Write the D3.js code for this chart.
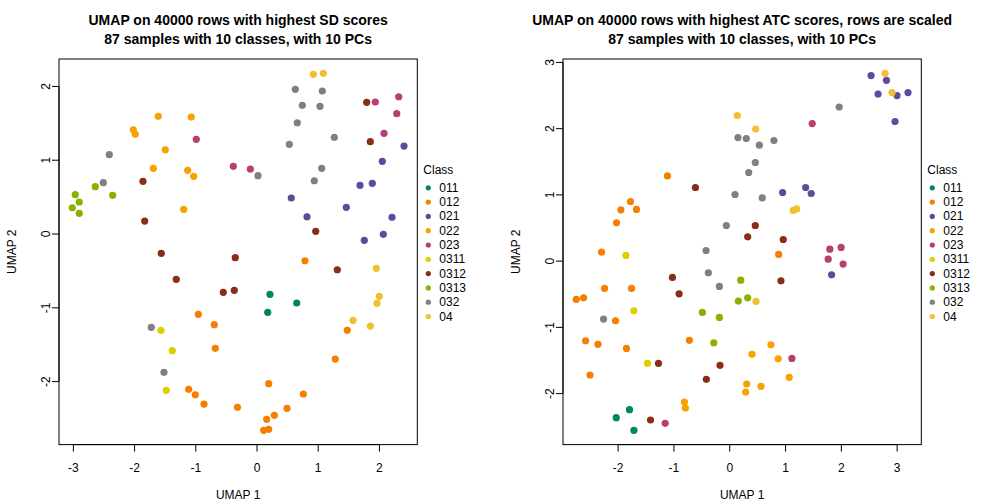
<!DOCTYPE html>
<html><head><meta charset="utf-8">
<script src="https://cdn.jsdelivr.net/npm/d3@7"></script>
<style>body{margin:0;background:#fff}svg{display:block}text{font-family:"Liberation Sans",Arial,Helvetica,sans-serif}</style>
</head><body>
<script>
const classLevels = ["011","012","021","022","023","0311","0312","0313","032","04"];
const classColors = ["#00875C","#F47F00","#5E4B9C","#F8A200","#B7406C","#DCCF00","#8B2C16","#8AB000","#808080","#F0C030"];

const sdTitle = ["UMAP on 40000 rows with highest SD scores","87 samples with 10 classes, with 10 PCs"];
const atcTitle = ["UMAP on 40000 rows with highest ATC scores, rows are scaled","87 samples with 10 classes, with 10 PCs"];

const sdClass = ["011","011","011",
 "012","012","012","012","012","012","012","012","012","012","012","012","012","012","012","012","012",
 "021","021","021","021","021","021","021","021","021","021",
 "022","022","022","022","022","022","022","022","022",
 "023","023","023","023","023","023","023",
 "0311","0311","0311",
 "0312","0312","0312","0312","0312","0312","0312","0312","0312","0312","0312",
 "0313","0313","0313","0313","0313","0313",
 "032","032","032","032","032","032","032","032","032","032","032","032","032","032",
 "04","04","04","04","04","04","04"];
const sdX = [0.212,0.649,0.175,
 -0.959,-0.698,-0.681,-1.116,-1.008,-0.866,-0.319,0.784,1.475,1.279,0.191,0.757,0.490,0.283,0.158,0.109,0.191,
 2.402,2.047,1.683,1.884,0.560,1.459,0.817,2.206,1.753,2.064,
 -1.613,-1.074,-2.021,-1.989,-1.498,-1.694,-1.132,-1.034,-1.198,
 -0.992,-0.387,1.933,2.315,2.283,2.075,-0.109,
 -1.569,-1.384,-1.482,
 -1.863,-1.835,-1.564,1.792,1.851,0.959,-0.355,-1.319,-0.551,-0.371,1.312,
 -2.642,-2.358,-2.969,-2.904,-3.018,-2.904,
 -2.413,-2.511,0.626,1.067,0.740,1.029,0.658,1.263,0.528,0.016,1.057,0.936,-1.727,-1.520,
 0.920,1.083,1.949,1.998,1.961,1.569,1.851];
const sdY = [-0.817,-0.935,-1.061,
 -1.088,-1.229,-1.549,-2.104,-2.178,-2.304,-2.348,-0.362,-1.305,-1.694,-2.028,-2.168,-2.362,-2.457,-2.511,-2.660,-2.646,
 1.192,0.985,0.660,0.687,0.488,0.362,0.234,0.226,-0.085,-0.004,
 1.595,1.585,1.413,1.351,1.142,0.890,0.863,0.782,0.335,
 1.283,0.917,1.789,1.860,1.630,1.364,0.881,
 -1.305,-1.581,-2.118,
 0.714,0.176,-0.262,1.785,1.251,0.037,-0.321,-0.614,-0.790,-0.763,-0.484,
 0.641,0.524,0.533,0.434,0.356,0.280,
 1.075,0.695,1.961,1.938,1.744,1.730,1.508,1.310,1.215,0.790,0.890,0.722,-1.264,-1.874,
 2.164,2.178,-0.465,-0.844,-0.939,-1.169,-1.247];

const atcClass = sdClass;
const atcX = [-1.796,-2.034,-1.717,
 -1.116,-1.778,-1.950,-1.671,-2.029,-2.297,0.877,-2.243,-1.760,-2.750,-2.619,-2.047,-2.583,-2.361,-1.850,-0.723,-2.504,
 2.533,2.809,2.658,2.998,3.195,2.962,0.948,1.360,1.460,1.825,
 -0.812,-0.794,0.739,0.399,0.869,1.066,0.304,0.560,0.286,
 1.478,1.794,1.996,1.764,2.032,-1.157,1.114,
 -1.860,-1.717,-1.474,
 -0.615,0.322,0.458,0.959,-1.027,-0.907,-1.277,-0.174,-0.419,-1.420,0.918,
 0.197,0.154,0.322,-0.490,-0.186,-0.286,
 0.148,0.297,0.340,0.095,-0.061,-0.424,-0.383,1.961,0.530,0.792,0.458,0.583,-0.186,-2.261,
 0.136,2.784,2.909,0.465,1.138,1.199,0.470];
const atcY = [-2.243,-2.363,-2.554,
 1.287,0.900,0.774,0.780,0.578,0.136,0.101,-0.412,-0.412,-0.578,-0.554,-0.900,-1.202,-1.256,-1.317,-1.196,-1.719,
 2.801,2.730,2.523,2.499,2.544,2.107,1.036,1.112,1.021,-0.207,
 -2.127,-2.217,-1.262,-1.407,-1.474,-1.754,-1.855,-1.890,-1.976,
 2.077,0.181,0.207,0.030,-0.045,-2.448,-1.468,
 0.086,-0.750,-1.543,
 1.112,0.367,0.538,0.327,-0.246,-0.493,-1.543,-1.573,-1.784,-2.398,-0.297,
 -0.287,-0.603,-0.554,-0.774,-0.849,-1.232,
 1.866,1.851,1.338,1.006,0.538,0.161,-0.176,2.327,1.750,1.821,1.489,0.955,-0.382,-0.875,
 2.198,2.836,2.544,1.995,0.765,0.789,-0.608];

const W = 1008, H = 504;
const svg = d3.select("body").append("svg").attr("width", W).attr("height", H);
const color = d3.scaleOrdinal().domain(classLevels).range(classColors);

function rPad(arr) {
  const [a, b] = d3.extent(arr);
  const p = (b - a) * 0.04;
  return [a - p, b + p];
}

function panel(offset, title, cls, xs, ys) {
  const left = offset + 59, right = offset + 417.3, top = 59, bottom = 444.6;
  const g = svg.append("g");
  const x = d3.scaleLinear().domain(rPad(xs)).range([left, right]);
  const y = d3.scaleLinear().domain(rPad(ys)).range([bottom, top]);

  // points
  g.selectAll("circle.pt").data(d3.range(xs.length)).join("circle")
    .attr("class", "pt")
    .attr("cx", i => x(xs[i])).attr("cy", i => y(ys[i])).attr("r", 3.6)
    .attr("fill", i => color(cls[i]));

  // box
  g.append("rect").attr("x", left).attr("y", top).attr("width", right - left).attr("height", bottom - top)
    .attr("fill", "none").attr("stroke", "#000").attr("stroke-width", 1);

  // x axis
  const xt = x.ticks(6);
  g.append("line").attr("x1", x(xt[0])).attr("x2", x(xt[xt.length - 1])).attr("y1", bottom).attr("y2", bottom).attr("stroke", "#000");
  g.selectAll("line.xt").data(xt).join("line").attr("class", "xt")
    .attr("x1", d => x(d)).attr("x2", d => x(d)).attr("y1", bottom).attr("y2", bottom + 7).attr("stroke", "#000");
  g.selectAll("text.xt").data(xt).join("text").attr("class", "xt")
    .attr("x", d => x(d)).attr("y", bottom + 27).attr("text-anchor", "middle").attr("font-size", 12)
    .text(d => d3.format("d")(d).replace("−", "-"));

  // y axis
  const yt = y.ticks(6);
  g.append("line").attr("y1", y(yt[0])).attr("y2", y(yt[yt.length - 1])).attr("x1", left).attr("x2", left).attr("stroke", "#000");
  g.selectAll("line.yt").data(yt).join("line").attr("class", "yt")
    .attr("y1", d => y(d)).attr("y2", d => y(d)).attr("x1", left).attr("x2", left - 7).attr("stroke", "#000");
  g.selectAll("text.yt").data(yt).join("text").attr("class", "yt")
    .attr("transform", d => `translate(${left - 13},${y(d)}) rotate(-90)`)
    .attr("text-anchor", "middle").attr("dominant-baseline", "central").attr("font-size", 12)
    .text(d => d3.format("d")(d).replace("−", "-"));

  // axis titles
  g.append("text").attr("x", (left + right) / 2).attr("y", 499).attr("text-anchor", "middle").attr("font-size", 12).text("UMAP 1");
  g.append("text").attr("transform", `translate(${offset + 12},${(top + bottom) / 2}) rotate(-90)`)
    .attr("text-anchor", "middle").attr("dominant-baseline", "central").attr("font-size", 12).text("UMAP 2");

  // title
  g.selectAll("text.title").data(title).join("text").attr("class", "title")
    .attr("x", (left + right) / 2).attr("y", (d, i) => 25 + i * 19)
    .attr("text-anchor", "middle").attr("font-size", 14).attr("font-weight", "bold").text(d => d);

  // legend
  const lx = right + 6;
  g.append("text").attr("x", lx).attr("y", 173.5).attr("font-size", 12).text("Class");
  const leg = g.selectAll("g.leg").data(classLevels).join("g").attr("class", "leg")
    .attr("transform", (d, i) => `translate(${lx},${187.8 + i * 14.3})`);
  leg.append("circle").attr("cx", 5).attr("cy", 0).attr("r", 2.6).attr("fill", d => color(d));
  leg.append("text").attr("x", 16).attr("y", 0).attr("dominant-baseline", "central").attr("font-size", 12).text(d => d);
}

panel(0, sdTitle, sdClass, sdX, sdY);
panel(504, atcTitle, atcClass, atcX, atcY);
</script>
</body></html>
